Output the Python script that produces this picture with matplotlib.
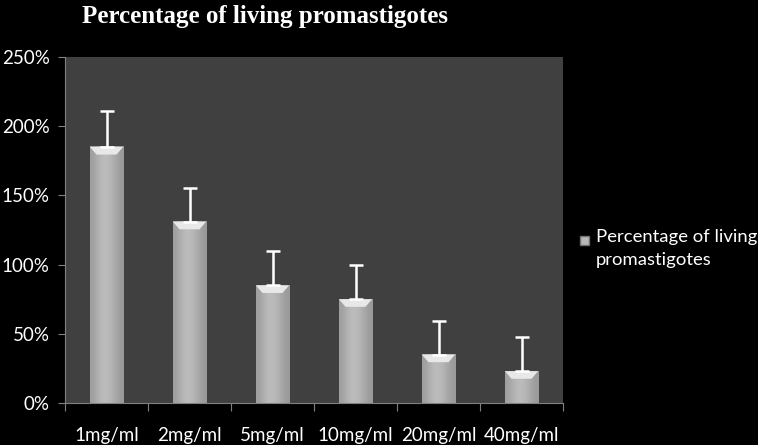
import numpy as np
import matplotlib
matplotlib.use('Agg')
from matplotlib import pyplot as plt
from matplotlib.patches import Polygon, Rectangle

# data
categories = ['1mg/ml', '2mg/ml', '5mg/ml', '10mg/ml', '20mg/ml', '40mg/ml']
values = [185, 131, 85, 75, 35, 23]
errors = [26, 24, 25, 25, 24, 25]
yticks = [0, 50, 100, 150, 200, 250]
title = 'Percentage of living promastigotes'
legend_label = 'Percentage of living\npromastigotes'

plt.rcParams['font.family'] = ['Lato', 'DejaVu Sans']

fig = plt.figure(figsize=(7.58, 4.45), dpi=100, facecolor='black')
ax = fig.add_axes([65 / 758, 1 - 403 / 445, 498 / 758, 346 / 445])
ax.set_facecolor('#404040')

x = np.arange(len(categories))
w = 0.4

# bars with a soft gradient
grad = np.array([[0.62, 0.70, 0.74, 0.72, 0.66, 0.60]])
for xi, v in zip(x, values):
    ax.imshow(grad, cmap='gray', vmin=0, vmax=1, aspect='auto',
              extent=(xi - w / 2, xi + w / 2, 0, v), zorder=2, interpolation='bicubic')
    bev = 0.04 * 250
    ax.add_patch(Polygon([(xi - w / 2, v), (xi + w / 2, v),
                          (xi + w / 2 - 0.08, v - bev * 0.55), (xi - w / 2 + 0.08, v - bev * 0.55)],
                         closed=True, facecolor='#e8e8e8', edgecolor='none', zorder=3))

ax.errorbar(x, values, yerr=[np.zeros(len(errors)), errors], fmt='none',
            ecolor='white', elinewidth=1.8, capsize=5, capthick=1.8, zorder=4)

ax.set_xlim(-0.5, len(categories) - 0.5)
ax.set_ylim(0, 250)
ax.set_yticks(yticks)
ax.set_yticklabels(['%d%%' % t for t in yticks], color='white', fontsize=13.5)
ax.set_xticks(np.arange(len(categories) + 1) - 0.5)
ax.set_xticklabels([])
ax.set_xticks(x, minor=True)
ax.set_xticklabels(categories, minor=True, color='white', fontsize=13.5)
ax.tick_params(axis='x', which='minor', length=0, pad=17)
ax.tick_params(axis='x', which='major', length=6, color='#808080')
ax.tick_params(axis='y', length=5, color='#808080', pad=6)

for s in ['top', 'right']:
    ax.spines[s].set_visible(False)
for s in ['left', 'bottom']:
    ax.spines[s].set_color('#808080')

fig.text(265 / 758, 1 - 17 / 445, title, color='white', fontsize=18,
         fontweight='bold', family='Liberation Serif', ha='center', va='center')

# legend
fig.patches.append(Rectangle((580 / 758, 1 - 245 / 445), 9 / 758, 9 / 445,
                   transform=fig.transFigure, facecolor='#b8b8b8', edgecolor='#707070'))
fig.text(596 / 758, 1 - 229 / 445, legend_label, color='white', fontsize=13.3,
         va='top', ha='left', linespacing=1.55)

fig.savefig('out.png', dpi=100, facecolor='black')
